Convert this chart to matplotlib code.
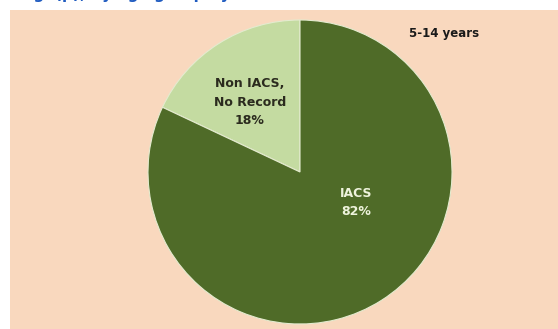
import matplotlib.pyplot as plt
from matplotlib.patches import Rectangle

categories = ['Non IACS,\nNo Record', 'IACS']
shares = [18, 82]
colors = ['#C4DBA1', '#4F6B28']
text_colors = ['#2B2B1E', '#EEF3DC']
age_group = '5-14 years'

W, H = 558, 329
fig = plt.figure(figsize=(W / 100, H / 100), dpi=100, facecolor='white')

# peach backdrop, with a thin white margin on the left and top
fig.patches.append(Rectangle((10 / W, 0), 1 - 10 / W, (H - 10) / H,
                             transform=fig.transFigure, facecolor='#F9D8BE',
                             edgecolor='none', zorder=-5))

# clipped blue heading above the panel (only its lower edge shows)
fig.text(18 / W, 1 + 1 / H, 'Fig. (p); by age group / y', color='#1F5BC0',
         fontsize=11, fontweight='bold', va='baseline', ha='left')

ax = fig.add_axes([148 / W, 5 / H, 304 / W, 304 / H], zorder=2)
ax.patch.set_visible(False)
wedges, _ = ax.pie(shares, colors=colors, startangle=90, counterclock=True,
                   wedgeprops=dict(edgecolor='#E4EBCF', linewidth=0.8))
ax.set_xlim(-1, 1)
ax.set_ylim(-1, 1)
ax.axis('off')

label_pos = [(-0.33, 0.46), (0.37, -0.20)]
for cat, val, pos, tc in zip(categories, shares, label_pos, text_colors):
    ax.text(pos[0], pos[1], f'{cat}\n{val}%', ha='center', va='center',
            fontsize=9, fontweight='bold', color=tc, linespacing=1.55)

fig.text(444 / W, 1 - 33 / H, age_group, ha='center', va='center',
         fontsize=8.5, fontweight='bold', color='#1A1A1A')

fig.savefig('out.png', dpi=100, facecolor='white')
